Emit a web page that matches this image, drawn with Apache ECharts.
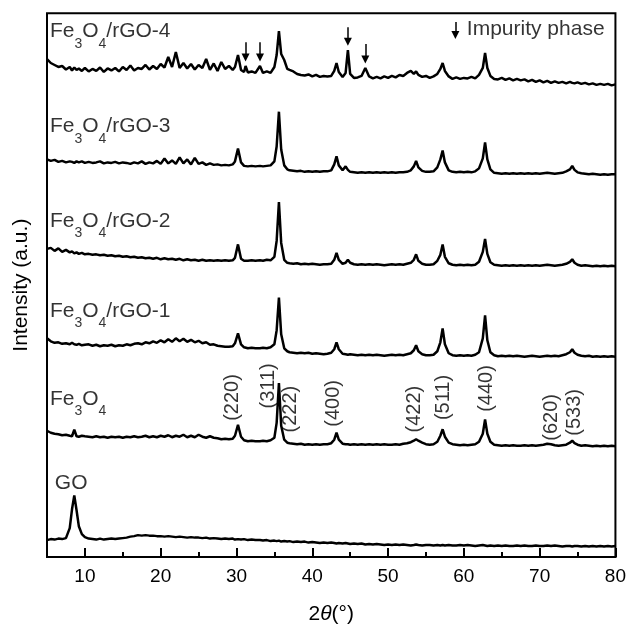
<!DOCTYPE html>
<html>
<head>
<meta charset="utf-8">
<script src="https://cdn.jsdelivr.net/npm/echarts@6/dist/echarts.min.js"></script>
<style>
  html, body { margin: 0; padding: 0; background: #fff; }
  #xrd { width: 629px; height: 630px; }
</style>
</head>
<body>
<div id="xrd"></div>
<script>
// 2theta grid shared by all patterns (rows of 10)
var twoTheta = [
  5.0, 5.5, 6.0, 6.5, 7.0, 7.5, 8.0, 8.3, 8.6, 8.9,
  9.2, 9.6, 10.0, 10.5, 11.0, 11.5, 12.0, 12.5, 13.0, 13.5,
  14.0, 14.5, 15.0, 15.5, 16.0, 16.5, 17.0, 17.5, 18.0, 18.5,
  19.0, 19.5, 20.0, 20.5, 21.0, 21.5, 22.0, 22.5, 23.0, 23.5,
  24.0, 24.5, 25.0, 25.5, 26.0, 26.5, 27.0, 27.5, 28.0, 28.5,
  29.0, 29.5, 29.8, 30.2, 30.6, 31.0, 31.2, 31.5, 32.0, 32.5,
  33.1, 33.5, 34.0, 34.5, 35.0, 35.3, 35.6, 35.9, 36.3, 36.7,
  37.0, 37.5, 38.0, 38.5, 39.0, 39.5, 40.0, 40.5, 41.0, 41.5,
  42.0, 42.5, 42.9, 43.2, 43.5, 44.0, 44.4, 44.7, 45.0, 45.5,
  46.0, 46.5, 47.0, 47.5, 48.0, 48.5, 49.0, 49.5, 50.0, 50.5,
  51.0, 51.5, 52.0, 52.5, 53.0, 53.4, 53.7, 54.0, 54.5, 55.0,
  55.5, 56.0, 56.5, 56.9, 57.2, 57.5, 58.0, 58.5, 59.0, 59.5,
  60.0, 60.5, 61.0, 61.5, 62.0, 62.5, 62.8, 63.1, 63.5, 64.0,
  64.5, 65.0, 65.5, 66.0, 66.5, 67.0, 67.5, 68.0, 68.5, 69.0,
  69.5, 70.0, 70.5, 71.0, 71.2, 71.5, 72.0, 72.5, 73.0, 73.5,
  74.0, 74.3, 74.6, 75.0, 75.5, 76.0, 76.5, 77.0, 77.5, 78.0,
  78.5, 79.0, 79.5, 80.0
];

// intensities (a.u., already stacked)
var goCounts = [
  17, 18, 17.5, 18.5, 18, 19, 29, 48, 62, 47,
  31, 23, 20, 18.5, 18, 17.5, 18.5, 17.5, 18, 18.5,
  18, 18.5, 19, 19.5, 20.5, 21, 22, 21.5, 22, 21.5,
  21.5, 21, 21, 20.5, 21, 20.5, 20, 20.5, 20, 19.5,
  20, 19.5, 19.5, 19, 19.5, 18.5, 19, 18.5, 18, 18.5,
  18, 18.5, 17.5, 18, 17.5, 18, 17.5, 17, 17.5, 17,
  17, 16.5, 17, 16, 16.5, 16, 16.5, 15.5, 16, 15.5,
  16, 15, 15.5, 15, 15.5, 14.5, 15, 14.5, 14, 14.5,
  14, 14.5, 14, 13.5, 14, 13.5, 14, 13.5, 13, 13.5,
  13, 13.5, 12.5, 13, 12.5, 13, 12.5, 12, 12.5, 12,
  12.5, 12, 12.5, 12, 11.5, 12, 12.5, 12, 11.5, 12,
  12, 11.5, 12, 11.5, 12, 11.5, 12, 11.5, 11.5, 12,
  11.5, 12, 11.5, 11, 11.5, 12, 11.5, 11, 11.5, 11,
  11.5, 11, 11.5, 11, 11, 11.5, 11, 11.5, 11, 11,
  11.5, 11, 11, 11.5, 11, 11, 11.5, 11, 10.5, 11,
  11, 10.5, 11, 11, 10.5, 11, 10.5, 11, 10.5, 11,
  10.5, 11, 10.5, 11
];
var fe3o4Counts = [
  127, 125, 124, 123.5, 122.5, 123, 122, 121.5, 128, 121.5,
  121, 122, 121.5, 121, 120.5, 121.5, 120.5, 121, 120, 121,
  120.5, 121, 120, 121, 120.5, 121.5, 120.5, 121, 122, 120.5,
  121.5, 120.5, 122, 121, 122.5, 120.5, 122, 121, 123, 120.5,
  122, 120.5, 123, 121, 120, 121.5, 120, 119.5, 118.5, 119,
  118.5, 119, 122, 133, 121, 117.5, 117, 116.5, 117, 116.5,
  116.5, 117, 116.5, 117.5, 120, 135, 175, 132, 118, 115,
  114.5, 114, 113.5, 114, 113, 113.5, 113, 113.5, 113, 113.5,
  113.5, 114.5, 118, 125, 118, 114, 113.5, 113.5, 113, 113.5,
  113, 113.5, 113, 113.5, 113, 113.5, 113, 113.5, 113, 113,
  113.5, 113, 114, 114.5, 115.5, 117, 118.5, 117, 115, 113.5,
  113, 113.5, 116, 122, 128.5, 121, 115, 113.5, 113, 112.5,
  113, 112.5, 113, 113.5, 116, 124, 138.5, 124, 116, 113,
  112.5, 112, 112.5, 112, 112.5, 112, 112, 112.5, 112, 112.5,
  112, 112.5, 113, 114, 115, 113.5, 112.5, 112, 112.5, 113,
  115, 117, 114.5, 113, 112, 112.5, 112, 111.5, 112, 111.5,
  112, 111.5, 112, 111.5
];
var rgo1Counts = [
  220, 217, 215.5, 216, 214.5, 215, 214, 215.5, 214, 213.5,
  214.5, 213, 213.5, 214, 212.5, 213.5, 212, 213, 212.5, 213.5,
  212, 213, 212.5, 214, 213, 214.5, 215, 214, 216, 215,
  217, 215.5, 218, 216, 219, 216.5, 220, 217, 219.5, 216.5,
  218.5, 216, 217.5, 215, 216, 213.5, 214, 212.5, 212, 211.5,
  211.5, 212, 215, 225, 214, 211, 210.5, 210, 210.5, 210,
  210, 210.5, 210, 211, 214, 228, 261, 224, 210, 207,
  206, 205.5, 205, 205.5, 205, 205.5, 204.5, 205, 204.5, 204,
  204.5, 205.5, 209, 216, 209, 204.5, 204, 203.5, 204, 203.5,
  203, 203.5, 203, 203.5, 203, 203.5, 203, 202.5, 203, 203.5,
  203, 203.5, 203, 204, 205, 208, 213, 207, 204, 203,
  203, 203.5, 207, 216, 230, 214, 205, 203, 202.5, 203,
  202.5, 203, 202.5, 203.5, 206, 220, 243, 218, 206, 203,
  202, 202.5, 202, 202.5, 202, 202.5, 202, 201.5, 202, 202.5,
  202, 201.5, 202, 202.5, 203, 202, 202.5, 202, 203, 204,
  206, 209, 205.5, 203.5, 202.5, 202, 202.5, 201.5, 202, 201.5,
  202, 201.5, 202, 201.5
];
var rgo2Counts = [
  310, 311, 308, 310.5, 307, 309, 306.5, 307.5, 305.5, 306.5,
  305, 306, 304.5, 305, 304, 304.5, 303.5, 304, 303, 303.5,
  302.5, 303, 302, 302.5, 301.5, 302, 301, 301.5, 300.5, 301,
  300, 301, 299.5, 300.5, 299.5, 300, 299, 300, 298.5, 299.5,
  298.5, 299, 298, 299, 298, 298.5, 298, 298.5, 298, 298.5,
  298, 298.5, 301, 314.5, 300, 298, 298.5, 298, 298.5, 298,
  298.5, 298, 299, 298.5, 302, 318, 357, 316, 299, 296,
  295.5, 295, 295.5, 294.5, 295, 294.5, 295, 294.5, 294, 294.5,
  294.5, 295, 299, 306, 299, 295, 296, 299, 296, 294.5,
  294, 294.5, 294, 294.5, 294, 294.5, 294, 293.5, 294, 294.5,
  294, 294.5, 294, 295, 296, 299, 304.5, 298, 295, 294,
  294, 294.5, 298, 304, 314.5, 302, 295.5, 294, 293.5, 294,
  293.5, 294, 293.5, 294, 297, 307, 320, 305, 296.5, 294,
  293.5, 293, 293.5, 293, 293.5, 293, 293.5, 293, 293.5, 293,
  293.5, 293, 293.5, 294, 294.5, 293.5, 293, 293.5, 294, 295,
  297, 299.5, 296, 294, 293, 293.5, 293, 292.5, 293, 292.5,
  293, 292.5, 293, 292.5
];
var rgo3Counts = [
  400, 398.5, 399.5, 397.5, 398.5, 397, 398, 397.5, 396.5, 398,
  397, 398, 396.5, 397.5, 396.5, 397, 398, 396, 397, 396.5,
  397.5, 396, 397, 396.5, 395.5, 397, 396, 398, 395.5, 397,
  396, 398.5, 395.5, 401, 396, 399, 395.5, 402, 396, 400,
  395, 401.5, 395.5, 397, 394.5, 396, 394.5, 395, 394, 394.5,
  394, 395, 398, 411, 397, 393.5, 394, 393, 393.5, 393,
  393.5, 393, 393.5, 394, 398, 413, 448, 410, 394, 390,
  389, 388.5, 388, 388.5, 387.5, 388, 387.5, 388, 387.5, 388,
  388, 389, 395, 403, 394, 389, 393, 389.5, 387.5, 387,
  386.5, 387, 386.5, 387, 386.5, 387, 386.5, 387, 386.5, 387,
  386.5, 387, 387, 387.5, 389, 393, 398.5, 392, 388.5, 387.5,
  387.5, 388, 392, 400, 409, 397, 389, 387.5, 387, 387.5,
  387, 387.5, 387, 388, 391, 401, 417, 400, 390, 386.5,
  386, 385.5, 386, 385.5, 386, 385.5, 386, 385.5, 386, 385.5,
  386, 385.5, 386, 386.5, 387, 386, 385.5, 386, 386.5, 388,
  390, 393.5, 389.5, 387, 386, 385.5, 385, 385.5, 385, 384.5,
  385, 384.5, 385, 385
];
var rgo4Counts = [
  501, 497, 495, 493, 494, 490.5, 493, 489.5, 492.5, 490,
  491.5, 489, 492, 488.5, 491, 489, 492.5, 488, 491.5, 489.5,
  492, 488.5, 493, 490, 494.5, 489.5, 492, 491, 495, 490.5,
  494, 491, 496, 492.5, 503, 493, 508, 492, 497, 491.5,
  496, 490.5, 495, 492, 501, 490, 496.5, 489, 498, 491,
  494, 490, 493, 505, 490, 488, 494, 487.5, 488.5, 487,
  494, 487, 488.5, 487, 493, 505, 529, 506, 500, 491,
  490, 488.5, 486, 485, 484.5, 485.5, 483.5, 485, 483, 484,
  483.5, 484, 489, 497, 488, 483, 487, 510, 486, 482,
  482.5, 484, 492, 483.5, 481.5, 483, 481.5, 483.5, 482, 484,
  482.5, 485, 484, 487, 489, 486, 488.5, 485, 483, 484,
  482, 483.5, 486, 491, 497, 489, 483.5, 481, 482.5, 481,
  482, 481.5, 483, 481.5, 485, 492, 507, 492, 484, 481,
  480.5, 482, 480, 481.5, 479.5, 481, 479.5, 480.5, 478.5, 480,
  478, 479.5, 477.5, 479, 478, 477, 478.5, 477, 478, 476.5,
  478, 477, 476.5, 477.5, 476, 477, 475.5, 476.5, 475, 476,
  475, 476, 474.5, 475.5
];

// axis ticks
var majorTicks = [10, 20, 30, 40, 50, 60, 70, 80];
var minorTicks = [15, 25, 35, 45, 55, 65, 75];

// sample names, label anchors [2theta, intensity]
var sampleNames = ['Fe3O4/rGO-4', 'Fe3O4/rGO-3', 'Fe3O4/rGO-2', 'Fe3O4/rGO-1', 'Fe3O4'];
var sampleLabelPos = [[5.45, 539], [5.45, 443], [5.45, 348], [5.45, 257.7], [5.45, 169.3]];

// Miller indices of Fe3O4 reflections
var hklNames = ['(220)', '(311)', '(222)', '(400)', '(422)', '(511)', '(440)', '(620)', '(533)'];
var hklPos = [[29.48, 160], [34.31, 171.7], [37.24, 148.3], [42.89, 154], [53.53, 148.3],
              [57.40, 160], [63.0, 169], [71.63, 140], [74.69, 145]];

// impurity arrows on Fe3O4/rGO-4
var arrowTheta = [31.2, 33.1, 44.7, 47.0];
var arrowTop = [518, 518, 533, 516];
var arrowTip = [499, 499, 515, 497];

var FONT = 'Liberation Sans';

function toSeries(vals) {
  return twoTheta.map(function(t, i) { return [t, vals[i]]; });
}

// Fe3O4/rGO-4 -> Fe{s|3}O{s|4}/rGO-4
function richName(name) {
  var m = name.match(/^Fe3O4(.*)$/);
  var s = '{m|Fe}{s|3}{m|O}{s|4}';
  if (m[1]) s += '{m|' + m[1] + '}';
  return s;
}

var labelData = [];
sampleNames.forEach(function(n, i) {
  labelData.push({
    value: sampleLabelPos[i],
    label: {
      show: true, position: [0, 0], align: 'left', verticalAlign: 'top',
      formatter: richName(n),
      rich: {
        m: { fontFamily: FONT, fontSize: 21, lineHeight: 22, color: '#000', verticalAlign: 'top' },
        s: { fontFamily: FONT, fontSize: 14, padding: [16, 0, 0, 0], color: '#000', verticalAlign: 'top' }
      }
    }
  });
});
hklNames.forEach(function(n, i) {
  labelData.push({
    value: hklPos[i],
    label: {
      show: true, position: [0, 0], align: 'center', verticalAlign: 'middle',
      rotate: 90, formatter: n, fontFamily: FONT, fontSize: 20, color: '#000'
    }
  });
});
labelData.push({
  value: [8.25, 73.3],
  label: { show: true, position: [0, 0], align: 'center', verticalAlign: 'middle',
           formatter: 'GO', fontFamily: FONT, fontSize: 21, color: '#000' }
});
labelData.push({
  value: [60.46, 531],
  label: { show: true, position: [0, 0], align: 'left', verticalAlign: 'middle',
           formatter: 'Impurity phase', fontFamily: FONT, fontSize: 21, color: '#000' }
});

var arrowLines = arrowTheta.map(function(t, i) {
  return [{ coord: [t, arrowTop[i]] }, { coord: [t, arrowTip[i] + 3.5] }];
});
// legend arrow
arrowLines.push([{ coord: [58.88, 538.3] }, { coord: [58.88, 525.2] }]);

var traces = [goCounts, fe3o4Counts, rgo1Counts, rgo2Counts, rgo3Counts, rgo4Counts];
var traceNames = ['GO', 'Fe3O4', 'Fe3O4/rGO-1', 'Fe3O4/rGO-2', 'Fe3O4/rGO-3', 'Fe3O4/rGO-4'];

var series = traces.map(function(vals, i) {
  return {
    name: traceNames[i],
    type: 'line',
    data: toSeries(vals),
    showSymbol: false,
    symbol: 'none',
    lineStyle: { color: '#000', width: 2.5 },
    silent: true
  };
});
series.push({
  name: 'labels',
  type: 'scatter',
  data: labelData,
  symbolSize: 1,
  itemStyle: { color: 'transparent' },
  silent: true,
  z: 10,
  markLine: {
    silent: true,
    symbol: ['none', 'triangle'],
    symbolSize: 8,
    lineStyle: { color: '#000', width: 1.5, type: 'solid' },
    itemStyle: { color: '#000' },
    label: { show: false },
    data: arrowLines
  }
});

var myChart = echarts.init(document.getElementById('xrd'));
var option = {
  animation: false,
  grid: {
    left: 47, right: 11.3, top: 13.3, bottom: 70,
    show: true, borderColor: '#000', borderWidth: 2, backgroundColor: 'transparent'
  },
  xAxis: [{
    type: 'value', min: 5, max: 80,
    name: '2{i|θ}(°)',
    nameLocation: 'middle', nameGap: 47,
    nameTextStyle: {
      fontFamily: FONT, fontSize: 21, color: '#000',
      rich: { i: { fontFamily: FONT, fontSize: 21, fontStyle: 'italic', color: '#000' } }
    },
    axisLine: { show: true, lineStyle: { color: '#000', width: 2 } },
    axisTick: { show: true, inside: true, length: 9, lineStyle: { color: '#000', width: 2 }, customValues: majorTicks },
    axisLabel: { show: true, margin: 10, fontFamily: FONT, fontSize: 19, color: '#000', customValues: majorTicks },
    splitLine: { show: false }
  }, {
    type: 'value', min: 5, max: 80, position: 'bottom',
    axisLine: { show: false },
    axisTick: { show: true, inside: true, length: 5, lineStyle: { color: '#000', width: 2 }, customValues: minorTicks },
    axisLabel: { show: false },
    splitLine: { show: false }
  }],
  yAxis: {
    type: 'value', min: 0, max: 547,
    name: 'Intensity (a.u.)',
    nameLocation: 'middle', nameGap: 15,
    nameTextStyle: { fontFamily: FONT, fontSize: 21, color: '#000' },
    axisLine: { show: false },
    axisTick: { show: false },
    axisLabel: { show: false },
    splitLine: { show: false }
  },
  series: series
};
myChart.setOption(option);
</script>
</body>
</html>
